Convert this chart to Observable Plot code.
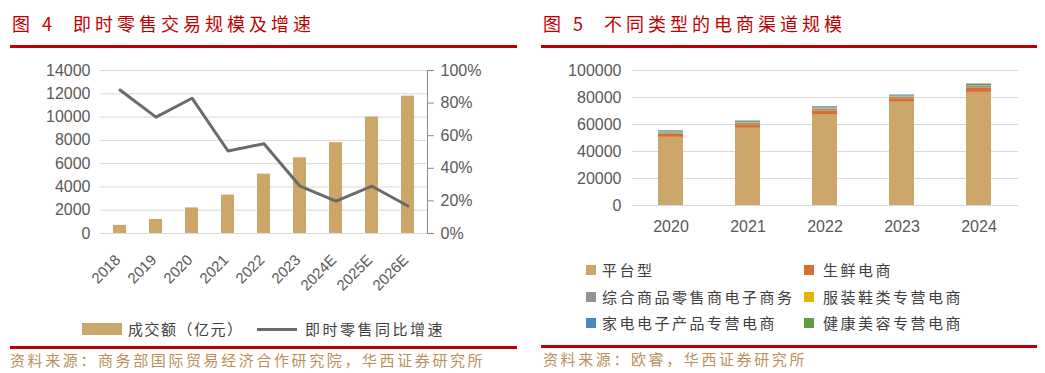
<!DOCTYPE html>
<html><head><meta charset="utf-8">
<script src="https://cdn.jsdelivr.net/npm/d3@7"></script>
<script src="https://cdn.jsdelivr.net/npm/@observablehq/plot@0.6"></script>
<style>
body{margin:0;background:#fff;width:1045px;height:373px;overflow:hidden;position:relative;font-family:"Noto Sans CJK SC",sans-serif;}
.abs{position:absolute;}
.title{color:#C00000;font-size:18px;letter-spacing:4px;white-space:nowrap;line-height:1}
.rule{height:3px;background:#C00000}
.src{color:#B8915A;font-size:15px;letter-spacing:2.6px;white-space:nowrap;line-height:1}
.leg{font-size:15px;color:#404040;letter-spacing:2.5px;white-space:nowrap;line-height:1}
.sw{width:10px;height:10px}
</style></head>
<body>
<div class="abs title" style="left:12px;top:14px">图 4<span style="margin-left:17px">即时零售交易规模及增速</span></div>
<div class="abs rule" style="left:10px;top:45px;width:507px"></div>
<div class="abs title" style="left:543px;top:14px">图 5<span style="margin-left:17px">不同类型的电商渠道规模</span></div>
<div class="abs rule" style="left:541px;top:45px;width:496px"></div>
<div id="c1" class="abs" style="left:0;top:55px"></div>
<div id="c2" class="abs" style="left:525px;top:55px"></div>
<div id="leg1"></div>
<div id="leg2"></div>
<div class="abs rule" style="left:10px;top:346px;width:507px"></div>
<div class="abs rule" style="left:541px;top:345px;width:496px"></div>
<div class="abs src" style="left:10px;top:352px">资料来源：商务部国际贸易经济合作研究院，华西证券研究所</div>
<div class="abs src" style="left:543px;top:351px">资料来源：欧睿，华西证券研究所</div>
<script>
// ---- Figure 4 data ----
const years4 = ["2018","2019","2020","2021","2022","2023","2024E","2025E","2026E"];
const volume = [700, 1200, 2200, 3300, 5100, 6500, 7800, 10000, 11800];
const growth = [0.88, 0.714, 0.83, 0.506, 0.551, 0.29, 0.198, 0.29, 0.169];
const leftTicks = [0, 2000, 4000, 6000, 8000, 10000, 12000, 14000];
const pctTicks = [0, 0.2, 0.4, 0.6, 0.8, 1.0];
const seriesNames4 = ["成交额（亿元）", "即时零售同比增速"];

// ---- Figure 5 data ----
const years5 = ["2020","2021","2022","2023","2024"];
const channels = ["平台型","生鲜电商","综合商品零售商电子商务","服装鞋类专营电商","家电电子产品专营电商","健康美容专营电商"];
const platform   = [50500, 57200, 67400, 76500, 83800];
const fresh      = [2200, 2400, 2700, 2600, 3000];
const general    = [1200, 1300, 1400, 1300, 1400];
const apparel    = [600, 700, 700, 600, 700];
const appliance  = [700, 700, 800, 700, 800];
const beauty     = [300, 300, 300, 200, 300];
const ticks5 = [0, 20000, 40000, 60000, 80000, 100000];

const barColor = "#CDA66A";
const lineColor = "#6b6b6b";
const colors5 = ["#CDA66A","#D86F2E","#939393","#E4B20A","#4A86C4","#5E9C3E"];
const axisFont = "Liberation Sans, Arial, sans-serif";
const plain = d3.format("d");

// ---- Chart 1 ----
const yMax1 = leftTicks[leftTicks.length-1];
const d1 = years4.map((y,i)=>({year:y, volume:volume[i], growth:growth[i]}));
const chart1 = Plot.plot({
  width:520, height:250, marginTop:15, marginBottom:72, marginLeft:100, marginRight:93,
  style:{fontFamily:axisFont, fontSize:"16px", color:"#595959", background:"white", overflow:"visible"},
  x:{domain:years4, paddingInner:0.65, paddingOuter:0.325, label:null},
  y:{domain:[0,yMax1], label:null},
  marks:[
    Plot.ruleY(leftTicks, {stroke:"#d9d9d9", strokeWidth:1}),
    Plot.barY(d1, {x:"year", y:"volume", fill:barColor}),
    Plot.line(d1, {x:"year", y:d=>d.growth*yMax1, stroke:lineColor, strokeWidth:3}),
    Plot.axisY(leftTicks, {anchor:"left", tickSize:0, tickPadding:10, tickFormat:plain, label:null}),
    Plot.axisY(pctTicks.map(p=>p*yMax1), {anchor:"right", tickSize:6, tickPadding:7, stroke:"#8c8c8c",
      tickFormat:d=>Math.round(d/yMax1*100)+"%", label:null}),
    Plot.frame({anchor:"right", stroke:"#8c8c8c"}),
    Plot.axisX({tickRotate:-45, tickSize:0, tickPadding:20, fontSize:15, dx:-2, dy:4, label:null})
  ]
});
document.getElementById("c1").append(chart1);

// ---- Chart 2 ----
const vals5 = [platform, fresh, general, apparel, appliance, beauty];
const d2 = [];
channels.forEach((c,ci)=>years5.forEach((y,yi)=>d2.push({year:y, channel:c, value:vals5[ci][yi]})));
const chart2 = Plot.plot({
  width:520, height:190, marginTop:15, marginBottom:40, marginLeft:107, marginRight:27,
  style:{fontFamily:axisFont, fontSize:"16px", color:"#595959", background:"white", overflow:"visible"},
  x:{domain:years5, paddingInner:0.675, paddingOuter:0.3375, label:null},
  y:{domain:[0,100000], label:null},
  color:{domain:channels, range:colors5},
  marks:[
    Plot.ruleY(ticks5, {stroke:"#d9d9d9", strokeWidth:1}),
    Plot.barY(d2, {x:"year", y:"value", fill:"channel"}),
    Plot.axisY(ticks5, {anchor:"left", tickSize:0, tickPadding:11, tickFormat:plain, label:null}),
    Plot.axisX({tickSize:0, tickPadding:15, label:null})
  ]
});
document.getElementById("c2").append(chart2);

// ---- Legends ----
const leg1 = document.getElementById("leg1");
leg1.innerHTML =
  `<div class="abs" style="left:82px;top:323px;width:40px;height:12px;background:${barColor}"></div>` +
  `<div class="abs leg" style="left:128px;top:321px;letter-spacing:1.5px">${seriesNames4[0]}</div>` +
  `<div class="abs" style="left:257px;top:328px;width:40px;height:3px;background:${lineColor}"></div>` +
  `<div class="abs leg" style="left:305px;top:321px">${seriesNames4[1]}</div>`;
const leg2 = document.getElementById("leg2");
const colX = [[586,602],[804,823]];
const rowY = [270, 296.5, 323];
leg2.innerHTML = channels.map((c,i)=>{
  const col = i%2, row = Math.floor(i/2);
  return `<div class="abs sw" style="left:${colX[col][0]}px;top:${rowY[row]-5}px;background:${colors5[i]}"></div>` +
         `<div class="abs leg" style="left:${colX[col][1]}px;top:${rowY[row]-8}px">${c}</div>`;
}).join("");
</script>
</body></html>
